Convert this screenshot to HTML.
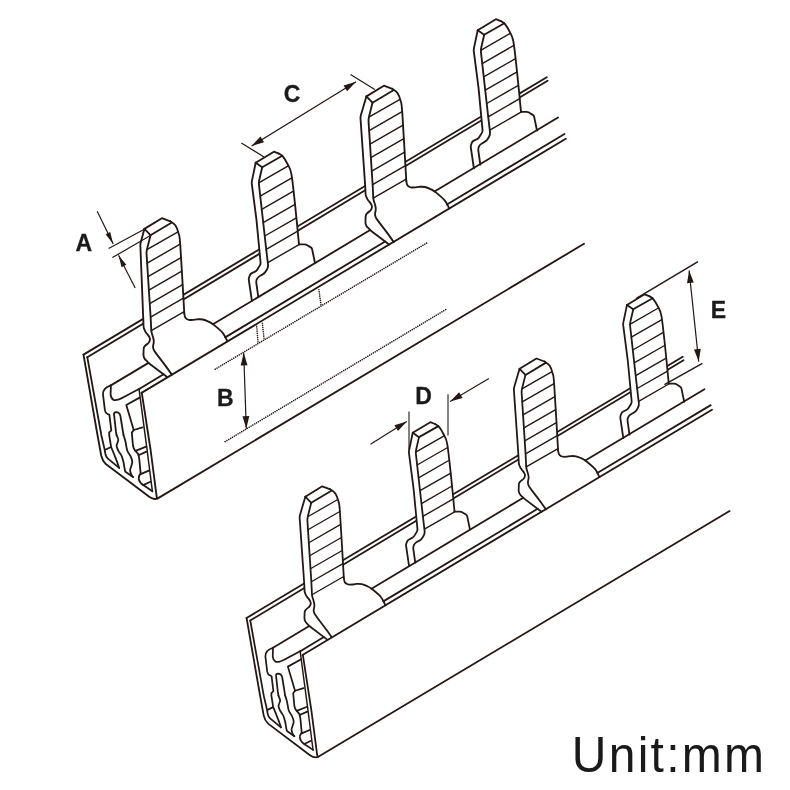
<!DOCTYPE html>
<html><head><meta charset="utf-8"><title>Busbar</title>
<style>
html,body{margin:0;padding:0;background:#fff;}
body{width:790px;height:790px;overflow:hidden;font-family:"Liberation Sans",sans-serif;}
svg{display:block;}
</style></head><body>
<svg width="790" height="790" viewBox="0 0 790 790">
<rect width="790" height="790" fill="#fff"/>
<g fill="none" stroke="#231815" stroke-width="1.85" stroke-linecap="round" stroke-linejoin="round">
<line x1="83.50" y1="354.60" x2="546.80" y2="77.20"/>
<line x1="87.30" y1="357.20" x2="547.60" y2="80.70"/>
<polygon points="167.1,377.0 148.6,363.0 147.0,361.3 144.3,358.6 143.4,355.4 143.6,350.4 143.7,347.3 145.8,345.0 149.0,342.8 150.3,339.0 148.7,335.8 145.5,332.0 143.6,327.6 143.3,320.0 140.3,244.1 144.4,228.9 161.9,218.2 170.3,221.3 175.5,225.5 178.6,233.4 180.3,245.6 184.3,313.5 185.2,317.3 187.2,319.2 189.6,320.0 193.2,319.9 197.3,319.3 202.9,319.5 208.5,321.6 213.5,324.6 222.7,332.9 227.2,341.0" fill="#fff" stroke="none"/>
<line x1="146.88" y1="249.70" x2="177.98" y2="231.82" stroke-width="1.4"/>
<line x1="147.14" y1="263.17" x2="180.11" y2="244.22" stroke-width="1.4"/>
<line x1="148.01" y1="276.64" x2="181.01" y2="257.67" stroke-width="1.4"/>
<line x1="148.88" y1="290.11" x2="181.81" y2="271.18" stroke-width="1.4"/>
<line x1="149.74" y1="303.58" x2="182.60" y2="284.69" stroke-width="1.4"/>
<line x1="150.61" y1="317.05" x2="183.40" y2="298.20" stroke-width="1.4"/>
<line x1="151.24" y1="330.52" x2="184.19" y2="311.57" stroke-width="1.4"/>
<path d="M167.10,377.00 L149.53,363.70 Q148.60,363.00 147.80,362.15 L147.80,362.15 Q147.00,361.30 146.17,360.47 L145.43,359.73 Q144.30,358.60 143.87,357.06 L143.83,356.94 Q143.40,355.40 143.46,353.80 L143.54,351.95 Q143.60,350.40 143.65,348.85 L143.65,348.85 Q143.70,347.30 144.75,346.15 L144.75,346.15 Q145.80,345.00 147.08,344.12 L147.68,343.71 Q149.00,342.80 149.52,341.29 L149.78,340.51 Q150.30,339.00 149.58,337.57 L149.42,337.23 Q148.70,335.80 147.67,334.58 L146.53,333.22 Q145.50,332.00 144.87,330.53 L144.23,329.07 Q143.60,327.60 143.54,326.00 L143.36,321.60 Q143.30,320.00 143.24,318.40 L140.36,245.70 Q140.30,244.10 140.72,242.56 L144.40,228.90"/>
<polyline points="144.4,228.9 161.9,218.2 170.3,221.3"/>
<path d="M170.30,221.30 C171.17,222.00 174.12,223.48 175.50,225.50 C176.88,227.52 177.80,230.05 178.60,233.40 C179.40,236.75 179.35,232.25 180.30,245.60 C181.25,258.95 183.63,302.18 184.30,313.50"/>
<path d="M184.30,313.50 C184.45,314.13 184.72,316.35 185.20,317.30 C185.68,318.25 186.47,318.75 187.20,319.20 C187.93,319.65 188.60,319.88 189.60,320.00 C190.60,320.12 191.92,320.02 193.20,319.90 C194.48,319.78 195.68,319.37 197.30,319.30 C198.92,319.23 201.03,319.12 202.90,319.50 C204.77,319.88 206.73,320.75 208.50,321.60 C210.27,322.45 211.13,322.72 213.50,324.60 C215.87,326.48 220.42,330.17 222.70,332.90 C224.98,335.63 226.45,339.65 227.20,341.00"/>
<path d="M150.50,235.20 L147.01,249.17 Q146.40,251.60 146.56,254.09 L150.64,317.51 Q150.80,320.00 150.90,322.50 L151.20,329.50 Q151.30,332.00 152.13,334.36 L152.35,334.98 Q153.10,337.10 153.55,339.30 L153.55,339.30 Q154.00,341.50 153.53,343.70 L153.23,345.06 Q152.90,346.60 153.20,348.15 L153.20,348.15 Q153.50,349.70 154.40,351.00 L155.18,352.14 Q156.60,354.20 158.13,356.18 L163.87,363.62 Q165.40,365.60 166.85,367.64 L171.80,374.60"/>
<line x1="144.40" y1="228.90" x2="150.50" y2="235.20"/>
<line x1="150.50" y1="235.20" x2="171.00" y2="223.00"/>
<polygon points="251.9,300.8 248.6,278.5 250.4,273.9 256.5,270.9 260.7,264.0 256.5,220.0 251.6,182.4 255.7,162.7 273.9,151.7 278.8,153.6 283.0,156.6 287.6,164.2 291.4,174.1 295.2,206.0 299.0,244.3 305.8,244.3 311.9,248.1 315.0,263.0" fill="#fff" stroke="none"/>
<line x1="258.74" y1="182.80" x2="288.23" y2="165.85" stroke-width="1.4"/>
<line x1="260.24" y1="196.10" x2="291.86" y2="177.92" stroke-width="1.4"/>
<line x1="261.74" y1="209.40" x2="293.43" y2="191.17" stroke-width="1.4"/>
<line x1="263.23" y1="222.70" x2="295.01" y2="204.43" stroke-width="1.4"/>
<line x1="264.73" y1="236.00" x2="296.37" y2="217.80" stroke-width="1.4"/>
<line x1="266.22" y1="249.30" x2="297.70" y2="231.20" stroke-width="1.4"/>
<line x1="267.78" y1="262.60" x2="299.03" y2="244.63" stroke-width="1.4"/>
<path d="M251.90,300.80 L248.83,280.08 Q248.60,278.50 249.18,277.01 L249.82,275.39 Q250.40,273.90 251.84,273.19 L255.06,271.61 Q256.50,270.90 257.33,269.53 L259.87,265.37 Q260.70,264.00 260.55,262.41 L256.65,221.59 Q256.50,220.00 256.29,218.41 L251.81,183.99 Q251.60,182.40 251.93,180.83 L255.70,162.70"/>
<polyline points="255.7,162.7 273.9,151.7 278.8,153.6"/>
<path d="M278.80,153.60 C279.50,154.10 281.53,154.83 283.00,156.60 C284.47,158.37 286.20,161.28 287.60,164.20 C289.00,167.12 290.13,167.13 291.40,174.10 C292.67,181.07 293.93,194.30 295.20,206.00 C296.47,217.70 298.37,237.92 299.00,244.30"/>
<path d="M299.00,244.30 L304.50,244.30 Q305.80,244.30 306.90,244.99 L310.80,247.41 Q311.90,248.10 312.16,249.37 L315.00,263.00"/>
<path d="M262.20,167.20 L259.26,179.96 Q258.70,182.40 258.98,184.88 L266.02,247.52 Q266.30,250.00 266.59,252.48 L268.01,264.52 Q268.30,267.00 267.07,269.18 L266.03,271.02 Q264.80,273.20 262.62,274.42 L259.87,275.95 Q258.00,277.00 257.00,278.90 L257.00,278.90 Q256.00,280.80 256.30,282.93 L258.30,297.20"/>
<line x1="255.70" y1="162.70" x2="262.20" y2="167.20"/>
<line x1="262.20" y1="167.20" x2="282.30" y2="155.80"/>
<polygon points="389.1,244.5 370.6,230.5 369.0,228.8 366.3,226.1 365.4,222.9 365.6,217.9 365.7,214.8 367.8,212.5 371.0,210.3 372.3,206.5 370.7,203.3 367.5,199.5 365.6,195.1 365.3,187.5 360.4,116.9 366.4,96.4 383.9,85.7 392.3,88.8 397.5,93.0 400.6,100.9 402.3,113.1 406.3,181.0 407.2,184.8 409.2,186.7 411.6,187.5 415.2,187.4 419.3,186.8 424.9,187.0 430.5,189.1 435.5,192.1 444.7,200.4 449.2,208.5" fill="#fff" stroke="none"/>
<line x1="368.88" y1="117.20" x2="399.98" y2="99.32" stroke-width="1.4"/>
<line x1="369.14" y1="130.67" x2="402.11" y2="111.72" stroke-width="1.4"/>
<line x1="370.01" y1="144.14" x2="403.01" y2="125.17" stroke-width="1.4"/>
<line x1="370.88" y1="157.61" x2="403.81" y2="138.68" stroke-width="1.4"/>
<line x1="371.74" y1="171.08" x2="404.60" y2="152.19" stroke-width="1.4"/>
<line x1="372.61" y1="184.55" x2="405.40" y2="165.70" stroke-width="1.4"/>
<line x1="373.24" y1="198.02" x2="406.19" y2="179.07" stroke-width="1.4"/>
<path d="M389.10,244.50 L371.53,231.20 Q370.60,230.50 369.80,229.65 L369.80,229.65 Q369.00,228.80 368.17,227.97 L367.43,227.23 Q366.30,226.10 365.87,224.56 L365.83,224.44 Q365.40,222.90 365.46,221.30 L365.54,219.45 Q365.60,217.90 365.65,216.35 L365.65,216.35 Q365.70,214.80 366.75,213.65 L366.75,213.65 Q367.80,212.50 369.08,211.62 L369.68,211.21 Q371.00,210.30 371.52,208.79 L371.78,208.01 Q372.30,206.50 371.58,205.07 L371.42,204.73 Q370.70,203.30 369.67,202.08 L368.53,200.72 Q367.50,199.50 366.87,198.03 L366.23,196.57 Q365.60,195.10 365.54,193.50 L365.36,189.10 Q365.30,187.50 365.19,185.90 L360.51,118.50 Q360.40,116.90 360.85,115.36 L366.40,96.40"/>
<polyline points="366.4,96.4 383.9,85.7 392.3,88.8"/>
<path d="M392.30,88.80 C393.17,89.50 396.12,90.98 397.50,93.00 C398.88,95.02 399.80,97.55 400.60,100.90 C401.40,104.25 401.35,99.75 402.30,113.10 C403.25,126.45 405.63,169.68 406.30,181.00"/>
<path d="M406.30,181.00 C406.45,181.63 406.72,183.85 407.20,184.80 C407.68,185.75 408.47,186.25 409.20,186.70 C409.93,187.15 410.60,187.38 411.60,187.50 C412.60,187.62 413.92,187.52 415.20,187.40 C416.48,187.28 417.68,186.87 419.30,186.80 C420.92,186.73 423.03,186.62 424.90,187.00 C426.77,187.38 428.73,188.25 430.50,189.10 C432.27,189.95 433.13,190.22 435.50,192.10 C437.87,193.98 442.42,197.67 444.70,200.40 C446.98,203.13 448.45,207.15 449.20,208.50"/>
<path d="M372.50,102.70 L369.01,116.67 Q368.40,119.10 368.56,121.59 L372.64,185.01 Q372.80,187.50 372.90,190.00 L373.20,197.00 Q373.30,199.50 374.13,201.86 L374.35,202.48 Q375.10,204.60 375.55,206.80 L375.55,206.80 Q376.00,209.00 375.53,211.20 L375.23,212.56 Q374.90,214.10 375.20,215.65 L375.20,215.65 Q375.50,217.20 376.40,218.50 L377.18,219.64 Q378.60,221.70 380.13,223.68 L385.87,231.12 Q387.40,233.10 388.85,235.14 L393.80,242.10"/>
<line x1="366.40" y1="96.40" x2="372.50" y2="102.70"/>
<line x1="372.50" y1="102.70" x2="393.00" y2="90.50"/>
<polygon points="473.9,168.3 470.6,146.0 472.4,141.4 478.5,138.4 482.7,131.5 478.5,87.5 473.6,49.9 477.7,30.2 495.9,19.2 500.8,21.1 505.0,24.1 509.6,31.7 513.4,41.6 517.2,73.5 521.0,111.8 527.8,111.8 533.9,115.6 537.0,130.5" fill="#fff" stroke="none"/>
<line x1="480.74" y1="50.30" x2="510.23" y2="33.35" stroke-width="1.4"/>
<line x1="482.24" y1="63.60" x2="513.86" y2="45.42" stroke-width="1.4"/>
<line x1="483.74" y1="76.90" x2="515.43" y2="58.67" stroke-width="1.4"/>
<line x1="485.23" y1="90.20" x2="517.01" y2="71.93" stroke-width="1.4"/>
<line x1="486.73" y1="103.50" x2="518.37" y2="85.30" stroke-width="1.4"/>
<line x1="488.22" y1="116.80" x2="519.70" y2="98.70" stroke-width="1.4"/>
<line x1="489.78" y1="130.10" x2="521.03" y2="112.13" stroke-width="1.4"/>
<path d="M473.90,168.30 L470.83,147.58 Q470.60,146.00 471.18,144.51 L471.82,142.89 Q472.40,141.40 473.84,140.69 L477.06,139.11 Q478.50,138.40 479.33,137.03 L481.87,132.87 Q482.70,131.50 482.55,129.91 L478.65,89.09 Q478.50,87.50 478.29,85.91 L473.81,51.49 Q473.60,49.90 473.93,48.33 L477.70,30.20"/>
<polyline points="477.7,30.2 495.9,19.2 500.8,21.1"/>
<path d="M500.80,21.10 C501.50,21.60 503.53,22.33 505.00,24.10 C506.47,25.87 508.20,28.78 509.60,31.70 C511.00,34.62 512.13,34.63 513.40,41.60 C514.67,48.57 515.93,61.80 517.20,73.50 C518.47,85.20 520.37,105.42 521.00,111.80"/>
<path d="M521.00,111.80 L526.50,111.80 Q527.80,111.80 528.90,112.49 L532.80,114.91 Q533.90,115.60 534.16,116.87 L537.00,130.50"/>
<path d="M484.20,34.70 L481.26,47.46 Q480.70,49.90 480.98,52.38 L488.02,115.02 Q488.30,117.50 488.59,119.98 L490.01,132.02 Q490.30,134.50 489.07,136.68 L488.03,138.52 Q486.80,140.70 484.62,141.92 L481.87,143.45 Q480.00,144.50 479.00,146.40 L479.00,146.40 Q478.00,148.30 478.30,150.43 L480.30,164.70"/>
<line x1="477.70" y1="30.20" x2="484.20" y2="34.70"/>
<line x1="484.20" y1="34.70" x2="504.30" y2="23.30"/>
<line x1="110.90" y1="385.40" x2="148.49" y2="362.88"/>
<line x1="212.94" y1="324.26" x2="370.17" y2="230.05"/>
<line x1="434.50" y1="191.50" x2="558.00" y2="117.50"/>
<line x1="139.60" y1="388.70" x2="163.57" y2="374.33"/>
<line x1="225.20" y1="337.39" x2="385.15" y2="241.51"/>
<line x1="446.96" y1="204.46" x2="564.50" y2="134.00"/>
<line x1="141.50" y1="392.90" x2="565.80" y2="138.70"/>
<line x1="157.80" y1="498.40" x2="584.00" y2="243.80"/>
<path d="M83.5,354.6 L96.6,430 L101.2,455.5 Q102.3,460.6 105.8,464.1 L149.2,496.8 Q153.8,500.2 157.8,498.4"/>
<path stroke-width="1.8" d="M87.3,357.2 L101.3,435 L104.5,448.9 L105.4,454 Q106.0,457.0 107.9,458.6 L119.1,467.9"/>
<path d="M141.8,392.8 L150.6,450 L156.8,497.7"/>
<path stroke-width="1.5" d="M139.0,388.9 L147.1,450 L152.4,491.4"/>
<path stroke-width="1.8" d="M110.9,385.4 Q106.5,386.8 104.9,388.9 Q102.6,391.5 103.0,394.5 L104.9,410.2 Q105.4,413.2 107.5,414.0 L109.4,414.9 L111.3,430.4 L109.2,432.4 L109.2,435.0 L111.1,447.0 L114.0,454.0 L117.2,462.2 L119.1,467.9"/>
<path stroke-width="1.8" d="M110.9,385.4 L110.6,394.7 Q111.0,398.5 113.5,399.9 Q117.0,401.0 123.9,397.0 L139.4,388.8"/>
<path stroke-width="1.8" d="M139.6,397.6 L126.3,405.0 L133.7,430.0 L142.6,427.3"/>
<path stroke-width="1.8" d="M133.7,430.0 L131.8,432.6 L133.0,445.8 Q133.6,448.8 135.0,450.4 L138.3,454.2 L139.3,459.1 L140.6,473.4 Q138.2,476.5 138.7,478.6 Q139.3,482.6 143.2,485.1 L152.4,491.3"/>
<path stroke-width="1.8" d="M135.5,450.8 L145.6,446.8"/>
<path stroke-width="1.8" d="M138.5,455.2 L146.4,451.6"/>
<path stroke-width="1.8" d="M140.6,474.2 L148.9,470.6"/>
<path stroke-width="1.8" d="M143.2,485.1 L150.4,481.8"/>
<path stroke-width="1.8" d="M116.5,435 L115.9,431.2 L114.0,414.2 Q113.9,412.3 116.0,412.2 Q119.6,412.2 120.4,416.0 L123.5,435"/>
<path stroke-width="1.8" d="M116.50,435.00 C116.80,435.85 118.28,438.30 118.30,440.10 C118.32,441.90 116.58,444.02 116.60,445.80 C116.62,447.58 117.57,449.12 118.40,450.80 C119.23,452.48 120.75,454.00 121.60,455.90 C122.45,457.80 122.98,459.98 123.50,462.20 C124.02,464.42 124.38,467.62 124.70,469.20 C125.02,470.78 125.28,471.28 125.40,471.70 L133.0,477.1"/>
<path stroke-width="1.8" d="M123.50,435.00 C123.82,436.05 124.77,438.67 125.40,441.30 C126.03,443.93 126.47,448.37 127.30,450.80 C128.13,453.23 129.57,454.10 130.40,455.90 C131.23,457.70 132.18,459.82 132.30,461.60 C132.42,463.38 131.47,465.13 131.10,466.60 C130.73,468.07 130.05,469.02 130.10,470.40 C130.15,471.78 130.92,473.78 131.40,474.90 C131.88,476.02 132.73,476.73 133.00,477.10"/>
<path stroke-width="1.8" d="M105.2,449.8 L111.1,447.0"/>
</g>
<g fill="none" stroke="#231815" stroke-width="1.85" stroke-linecap="round" stroke-linejoin="round" transform="translate(166,275.8) scale(0.965)">
<line x1="83.50" y1="354.60" x2="535.50" y2="83.97"/>
<line x1="87.30" y1="357.20" x2="536.30" y2="87.49"/>
<polygon points="167.1,377.0 148.6,363.0 147.0,361.3 144.3,358.6 143.4,355.4 143.6,350.4 143.7,347.3 145.8,345.0 149.0,342.8 150.3,339.0 148.7,335.8 145.5,332.0 143.6,327.6 143.3,320.0 138.4,249.4 144.4,228.9 161.9,218.2 170.3,221.3 175.5,225.5 178.6,233.4 180.3,245.6 184.3,313.5 185.2,317.3 187.2,319.2 189.6,320.0 193.2,319.9 197.3,319.3 202.9,319.5 208.5,321.6 213.5,324.6 222.7,332.9 227.2,341.0" fill="#fff" stroke="none"/>
<line x1="146.88" y1="249.70" x2="177.98" y2="231.82" stroke-width="1.4"/>
<line x1="147.14" y1="263.17" x2="180.11" y2="244.22" stroke-width="1.4"/>
<line x1="148.01" y1="276.64" x2="181.01" y2="257.67" stroke-width="1.4"/>
<line x1="148.88" y1="290.11" x2="181.81" y2="271.18" stroke-width="1.4"/>
<line x1="149.74" y1="303.58" x2="182.60" y2="284.69" stroke-width="1.4"/>
<line x1="150.61" y1="317.05" x2="183.40" y2="298.20" stroke-width="1.4"/>
<line x1="151.24" y1="330.52" x2="184.19" y2="311.57" stroke-width="1.4"/>
<path d="M167.10,377.00 L149.53,363.70 Q148.60,363.00 147.80,362.15 L147.80,362.15 Q147.00,361.30 146.17,360.47 L145.43,359.73 Q144.30,358.60 143.87,357.06 L143.83,356.94 Q143.40,355.40 143.46,353.80 L143.54,351.95 Q143.60,350.40 143.65,348.85 L143.65,348.85 Q143.70,347.30 144.75,346.15 L144.75,346.15 Q145.80,345.00 147.08,344.12 L147.68,343.71 Q149.00,342.80 149.52,341.29 L149.78,340.51 Q150.30,339.00 149.58,337.57 L149.42,337.23 Q148.70,335.80 147.67,334.58 L146.53,333.22 Q145.50,332.00 144.87,330.53 L144.23,329.07 Q143.60,327.60 143.54,326.00 L143.36,321.60 Q143.30,320.00 143.19,318.40 L138.51,251.00 Q138.40,249.40 138.85,247.86 L144.40,228.90"/>
<polyline points="144.4,228.9 161.9,218.2 170.3,221.3"/>
<path d="M170.30,221.30 C171.17,222.00 174.12,223.48 175.50,225.50 C176.88,227.52 177.80,230.05 178.60,233.40 C179.40,236.75 179.35,232.25 180.30,245.60 C181.25,258.95 183.63,302.18 184.30,313.50"/>
<path d="M184.30,313.50 C184.45,314.13 184.72,316.35 185.20,317.30 C185.68,318.25 186.47,318.75 187.20,319.20 C187.93,319.65 188.60,319.88 189.60,320.00 C190.60,320.12 191.92,320.02 193.20,319.90 C194.48,319.78 195.68,319.37 197.30,319.30 C198.92,319.23 201.03,319.12 202.90,319.50 C204.77,319.88 206.73,320.75 208.50,321.60 C210.27,322.45 211.13,322.72 213.50,324.60 C215.87,326.48 220.42,330.17 222.70,332.90 C224.98,335.63 226.45,339.65 227.20,341.00"/>
<path d="M150.50,235.20 L147.01,249.17 Q146.40,251.60 146.56,254.09 L150.64,317.51 Q150.80,320.00 150.90,322.50 L151.20,329.50 Q151.30,332.00 152.13,334.36 L152.35,334.98 Q153.10,337.10 153.55,339.30 L153.55,339.30 Q154.00,341.50 153.53,343.70 L153.23,345.06 Q152.90,346.60 153.20,348.15 L153.20,348.15 Q153.50,349.70 154.40,351.00 L155.18,352.14 Q156.60,354.20 158.13,356.18 L163.87,363.62 Q165.40,365.60 166.85,367.64 L171.80,374.60"/>
<line x1="144.40" y1="228.90" x2="150.50" y2="235.20"/>
<line x1="150.50" y1="235.20" x2="171.00" y2="223.00"/>
<polygon points="251.9,300.8 248.6,278.5 250.4,273.9 256.5,270.9 260.7,264.0 256.5,220.0 251.6,182.4 255.7,162.7 273.9,151.7 278.8,153.6 283.0,156.6 287.6,164.2 291.4,174.1 295.2,206.0 299.0,244.3 305.8,244.3 311.9,248.1 315.0,263.0" fill="#fff" stroke="none"/>
<line x1="258.74" y1="182.80" x2="288.23" y2="165.85" stroke-width="1.4"/>
<line x1="260.24" y1="196.10" x2="291.86" y2="177.92" stroke-width="1.4"/>
<line x1="261.74" y1="209.40" x2="293.43" y2="191.17" stroke-width="1.4"/>
<line x1="263.23" y1="222.70" x2="295.01" y2="204.43" stroke-width="1.4"/>
<line x1="264.73" y1="236.00" x2="296.37" y2="217.80" stroke-width="1.4"/>
<line x1="266.22" y1="249.30" x2="297.70" y2="231.20" stroke-width="1.4"/>
<line x1="267.78" y1="262.60" x2="299.03" y2="244.63" stroke-width="1.4"/>
<path d="M251.90,300.80 L248.83,280.08 Q248.60,278.50 249.18,277.01 L249.82,275.39 Q250.40,273.90 251.84,273.19 L255.06,271.61 Q256.50,270.90 257.33,269.53 L259.87,265.37 Q260.70,264.00 260.55,262.41 L256.65,221.59 Q256.50,220.00 256.29,218.41 L251.81,183.99 Q251.60,182.40 251.93,180.83 L255.70,162.70"/>
<polyline points="255.7,162.7 273.9,151.7 278.8,153.6"/>
<path d="M278.80,153.60 C279.50,154.10 281.53,154.83 283.00,156.60 C284.47,158.37 286.20,161.28 287.60,164.20 C289.00,167.12 290.13,167.13 291.40,174.10 C292.67,181.07 293.93,194.30 295.20,206.00 C296.47,217.70 298.37,237.92 299.00,244.30"/>
<path d="M299.00,244.30 L304.50,244.30 Q305.80,244.30 306.90,244.99 L310.80,247.41 Q311.90,248.10 312.16,249.37 L315.00,263.00"/>
<path d="M262.20,167.20 L259.26,179.96 Q258.70,182.40 258.98,184.88 L266.02,247.52 Q266.30,250.00 266.59,252.48 L268.01,264.52 Q268.30,267.00 267.07,269.18 L266.03,271.02 Q264.80,273.20 262.62,274.42 L259.87,275.95 Q258.00,277.00 257.00,278.90 L257.00,278.90 Q256.00,280.80 256.30,282.93 L258.30,297.20"/>
<line x1="255.70" y1="162.70" x2="262.20" y2="167.20"/>
<line x1="262.20" y1="167.20" x2="282.30" y2="155.80"/>
<polygon points="389.1,244.5 370.6,230.5 369.0,228.8 366.3,226.1 365.4,222.9 365.6,217.9 365.7,214.8 367.8,212.5 371.0,210.3 372.3,206.5 370.7,203.3 367.5,199.5 365.6,195.1 365.3,187.5 360.4,116.9 366.4,96.4 383.9,85.7 392.3,88.8 397.5,93.0 400.6,100.9 402.3,113.1 406.3,181.0 407.2,184.8 409.2,186.7 411.6,187.5 415.2,187.4 419.3,186.8 424.9,187.0 430.5,189.1 435.5,192.1 444.7,200.4 449.2,208.5" fill="#fff" stroke="none"/>
<line x1="368.88" y1="117.20" x2="399.98" y2="99.32" stroke-width="1.4"/>
<line x1="369.14" y1="130.67" x2="402.11" y2="111.72" stroke-width="1.4"/>
<line x1="370.01" y1="144.14" x2="403.01" y2="125.17" stroke-width="1.4"/>
<line x1="370.88" y1="157.61" x2="403.81" y2="138.68" stroke-width="1.4"/>
<line x1="371.74" y1="171.08" x2="404.60" y2="152.19" stroke-width="1.4"/>
<line x1="372.61" y1="184.55" x2="405.40" y2="165.70" stroke-width="1.4"/>
<line x1="373.24" y1="198.02" x2="406.19" y2="179.07" stroke-width="1.4"/>
<path d="M389.10,244.50 L371.53,231.20 Q370.60,230.50 369.80,229.65 L369.80,229.65 Q369.00,228.80 368.17,227.97 L367.43,227.23 Q366.30,226.10 365.87,224.56 L365.83,224.44 Q365.40,222.90 365.46,221.30 L365.54,219.45 Q365.60,217.90 365.65,216.35 L365.65,216.35 Q365.70,214.80 366.75,213.65 L366.75,213.65 Q367.80,212.50 369.08,211.62 L369.68,211.21 Q371.00,210.30 371.52,208.79 L371.78,208.01 Q372.30,206.50 371.58,205.07 L371.42,204.73 Q370.70,203.30 369.67,202.08 L368.53,200.72 Q367.50,199.50 366.87,198.03 L366.23,196.57 Q365.60,195.10 365.54,193.50 L365.36,189.10 Q365.30,187.50 365.19,185.90 L360.51,118.50 Q360.40,116.90 360.85,115.36 L366.40,96.40"/>
<polyline points="366.4,96.4 383.9,85.7 392.3,88.8"/>
<path d="M392.30,88.80 C393.17,89.50 396.12,90.98 397.50,93.00 C398.88,95.02 399.80,97.55 400.60,100.90 C401.40,104.25 401.35,99.75 402.30,113.10 C403.25,126.45 405.63,169.68 406.30,181.00"/>
<path d="M406.30,181.00 C406.45,181.63 406.72,183.85 407.20,184.80 C407.68,185.75 408.47,186.25 409.20,186.70 C409.93,187.15 410.60,187.38 411.60,187.50 C412.60,187.62 413.92,187.52 415.20,187.40 C416.48,187.28 417.68,186.87 419.30,186.80 C420.92,186.73 423.03,186.62 424.90,187.00 C426.77,187.38 428.73,188.25 430.50,189.10 C432.27,189.95 433.13,190.22 435.50,192.10 C437.87,193.98 442.42,197.67 444.70,200.40 C446.98,203.13 448.45,207.15 449.20,208.50"/>
<path d="M372.50,102.70 L369.01,116.67 Q368.40,119.10 368.56,121.59 L372.64,185.01 Q372.80,187.50 372.90,190.00 L373.20,197.00 Q373.30,199.50 374.13,201.86 L374.35,202.48 Q375.10,204.60 375.55,206.80 L375.55,206.80 Q376.00,209.00 375.53,211.20 L375.23,212.56 Q374.90,214.10 375.20,215.65 L375.20,215.65 Q375.50,217.20 376.40,218.50 L377.18,219.64 Q378.60,221.70 380.13,223.68 L385.87,231.12 Q387.40,233.10 388.85,235.14 L393.80,242.10"/>
<line x1="366.40" y1="96.40" x2="372.50" y2="102.70"/>
<line x1="372.50" y1="102.70" x2="393.00" y2="90.50"/>
<polygon points="473.9,168.3 470.6,146.0 472.4,141.4 478.5,138.4 482.7,131.5 478.5,87.5 473.6,49.9 477.7,30.2 495.9,19.2 500.8,21.1 505.0,24.1 509.6,31.7 513.4,41.6 517.2,73.5 521.0,111.8 527.8,111.8 533.9,115.6 537.0,130.5" fill="#fff" stroke="none"/>
<line x1="480.74" y1="50.30" x2="510.23" y2="33.35" stroke-width="1.4"/>
<line x1="482.24" y1="63.60" x2="513.86" y2="45.42" stroke-width="1.4"/>
<line x1="483.74" y1="76.90" x2="515.43" y2="58.67" stroke-width="1.4"/>
<line x1="485.23" y1="90.20" x2="517.01" y2="71.93" stroke-width="1.4"/>
<line x1="486.73" y1="103.50" x2="518.37" y2="85.30" stroke-width="1.4"/>
<line x1="488.22" y1="116.80" x2="519.70" y2="98.70" stroke-width="1.4"/>
<line x1="489.78" y1="130.10" x2="521.03" y2="112.13" stroke-width="1.4"/>
<path d="M473.90,168.30 L470.83,147.58 Q470.60,146.00 471.18,144.51 L471.82,142.89 Q472.40,141.40 473.84,140.69 L477.06,139.11 Q478.50,138.40 479.33,137.03 L481.87,132.87 Q482.70,131.50 482.55,129.91 L478.65,89.09 Q478.50,87.50 478.29,85.91 L473.81,51.49 Q473.60,49.90 473.93,48.33 L477.70,30.20"/>
<polyline points="477.7,30.2 495.9,19.2 500.8,21.1"/>
<path d="M500.80,21.10 C501.50,21.60 503.53,22.33 505.00,24.10 C506.47,25.87 508.20,28.78 509.60,31.70 C511.00,34.62 512.13,34.63 513.40,41.60 C514.67,48.57 515.93,61.80 517.20,73.50 C518.47,85.20 520.37,105.42 521.00,111.80"/>
<path d="M521.00,111.80 L526.50,111.80 Q527.80,111.80 528.90,112.49 L532.80,114.91 Q533.90,115.60 534.16,116.87 L537.00,130.50"/>
<path d="M484.20,34.70 L481.26,47.46 Q480.70,49.90 480.98,52.38 L488.02,115.02 Q488.30,117.50 488.59,119.98 L490.01,132.02 Q490.30,134.50 489.07,136.68 L488.03,138.52 Q486.80,140.70 484.62,141.92 L481.87,143.45 Q480.00,144.50 479.00,146.40 L479.00,146.40 Q478.00,148.30 478.30,150.43 L480.30,164.70"/>
<line x1="477.70" y1="30.20" x2="484.20" y2="34.70"/>
<line x1="484.20" y1="34.70" x2="504.30" y2="23.30"/>
<line x1="110.90" y1="385.40" x2="148.49" y2="362.88"/>
<line x1="212.94" y1="324.26" x2="370.17" y2="230.05"/>
<line x1="434.50" y1="191.50" x2="558.00" y2="117.50"/>
<line x1="139.60" y1="388.70" x2="163.57" y2="374.33"/>
<line x1="225.20" y1="337.39" x2="385.15" y2="241.51"/>
<line x1="446.96" y1="204.46" x2="564.50" y2="134.00"/>
<line x1="141.50" y1="392.90" x2="565.80" y2="138.70"/>
<line x1="157.80" y1="498.40" x2="584.00" y2="243.80"/>
<path d="M83.5,354.6 L96.6,430 L101.2,455.5 Q102.3,460.6 105.8,464.1 L149.2,496.8 Q153.8,500.2 157.8,498.4"/>
<path stroke-width="1.8" d="M87.3,357.2 L101.3,435 L104.5,448.9 L105.4,454 Q106.0,457.0 107.9,458.6 L119.1,467.9"/>
<path d="M141.8,392.8 L150.6,450 L156.8,497.7"/>
<path stroke-width="1.5" d="M139.0,388.9 L147.1,450 L152.4,491.4"/>
<path stroke-width="1.8" d="M110.9,385.4 Q106.5,386.8 104.9,388.9 Q102.6,391.5 103.0,394.5 L104.9,410.2 Q105.4,413.2 107.5,414.0 L109.4,414.9 L111.3,430.4 L109.2,432.4 L109.2,435.0 L111.1,447.0 L114.0,454.0 L117.2,462.2 L119.1,467.9"/>
<path stroke-width="1.8" d="M110.9,385.4 L110.6,394.7 Q111.0,398.5 113.5,399.9 Q117.0,401.0 123.9,397.0 L139.4,388.8"/>
<path stroke-width="1.8" d="M139.6,397.6 L126.3,405.0 L133.7,430.0 L142.6,427.3"/>
<path stroke-width="1.8" d="M133.7,430.0 L131.8,432.6 L133.0,445.8 Q133.6,448.8 135.0,450.4 L138.3,454.2 L139.3,459.1 L140.6,473.4 Q138.2,476.5 138.7,478.6 Q139.3,482.6 143.2,485.1 L152.4,491.3"/>
<path stroke-width="1.8" d="M135.5,450.8 L145.6,446.8"/>
<path stroke-width="1.8" d="M138.5,455.2 L146.4,451.6"/>
<path stroke-width="1.8" d="M140.6,474.2 L148.9,470.6"/>
<path stroke-width="1.8" d="M143.2,485.1 L150.4,481.8"/>
<path stroke-width="1.8" d="M116.5,435 L115.9,431.2 L114.0,414.2 Q113.9,412.3 116.0,412.2 Q119.6,412.2 120.4,416.0 L123.5,435"/>
<path stroke-width="1.8" d="M116.50,435.00 C116.80,435.85 118.28,438.30 118.30,440.10 C118.32,441.90 116.58,444.02 116.60,445.80 C116.62,447.58 117.57,449.12 118.40,450.80 C119.23,452.48 120.75,454.00 121.60,455.90 C122.45,457.80 122.98,459.98 123.50,462.20 C124.02,464.42 124.38,467.62 124.70,469.20 C125.02,470.78 125.28,471.28 125.40,471.70 L133.0,477.1"/>
<path stroke-width="1.8" d="M123.50,435.00 C123.82,436.05 124.77,438.67 125.40,441.30 C126.03,443.93 126.47,448.37 127.30,450.80 C128.13,453.23 129.57,454.10 130.40,455.90 C131.23,457.70 132.18,459.82 132.30,461.60 C132.42,463.38 131.47,465.13 131.10,466.60 C130.73,468.07 130.05,469.02 130.10,470.40 C130.15,471.78 130.92,473.78 131.40,474.90 C131.88,476.02 132.73,476.73 133.00,477.10"/>
<path stroke-width="1.8" d="M105.2,449.8 L111.1,447.0"/>
</g>
<g fill="none" stroke="#231815" stroke-linecap="butt">
<line x1="108.60" y1="248.50" x2="144.30" y2="229.20" stroke-width="1.2"/>
<line x1="112.40" y1="257.60" x2="150.40" y2="235.60" stroke-width="1.2"/>
<line x1="97.20" y1="211.30" x2="113.20" y2="243.90" stroke-width="1.2"/>
<polygon points="113.2,243.9 105.6,234.3 110.2,232.0" fill="#231815" stroke="none"/>
<line x1="135.20" y1="288.00" x2="118.50" y2="255.30" stroke-width="1.2"/>
<polygon points="118.5,255.3 126.3,264.8 121.6,267.2" fill="#231815" stroke="none"/>
<line x1="241.30" y1="142.90" x2="264.00" y2="157.00" stroke-width="1.2"/>
<line x1="350.50" y1="74.40" x2="374.80" y2="89.60" stroke-width="1.2"/>
<line x1="251.60" y1="145.90" x2="356.00" y2="81.80" stroke-width="1.2"/>
<polygon points="251.6,145.9 260.5,136.5 264.0,142.3" fill="#231815" stroke="none"/>
<polygon points="356.0,81.8 347.1,91.2 343.6,85.4" fill="#231815" stroke="none"/>
<line x1="243.70" y1="352.80" x2="246.30" y2="428.70" stroke-width="1.2"/>
<polygon points="243.7,352.8 247.5,365.2 240.7,365.4" fill="#231815" stroke="none"/>
<polygon points="246.3,428.7 242.5,416.3 249.3,416.1" fill="#231815" stroke="none"/>
<line x1="215.2" y1="369.2" x2="427.6" y2="242.5" stroke-width="1.6" stroke-linecap="round" stroke-dasharray="0.01 2.15" stroke="#231815"/>
<line x1="225.1" y1="441.7" x2="445.8" y2="309.6" stroke-width="1.6" stroke-linecap="round" stroke-dasharray="0.01 2.15" stroke="#231815"/>
<line x1="256.6" y1="324.7" x2="258.1" y2="342.9" stroke-width="1.6" stroke-linecap="round" stroke-dasharray="0.01 2.15" stroke="#231815"/>
<line x1="262.4" y1="323.2" x2="264.2" y2="339.9" stroke-width="1.6" stroke-linecap="round" stroke-dasharray="0.01 2.15" stroke="#231815"/>
<line x1="318.9" y1="289.7" x2="321.1" y2="305.7" stroke-width="1.6" stroke-linecap="round" stroke-dasharray="0.01 2.15" stroke="#231815"/>
<line x1="409" y1="411.4" x2="409" y2="449.6" stroke-width="1.1" stroke="#231815"/>
<line x1="448" y1="394.3" x2="448" y2="435.6" stroke-width="1.1" stroke="#231815"/>
<line x1="370.50" y1="444.30" x2="406.80" y2="421.60" stroke-width="1.2"/>
<polygon points="406.8,421.6 398.0,431.1 394.4,425.3" fill="#231815" stroke="none"/>
<line x1="488.90" y1="378.50" x2="450.10" y2="401.50" stroke-width="1.2"/>
<polygon points="450.1,401.5 459.1,392.2 462.6,398.1" fill="#231815" stroke="none"/>
<line x1="636.00" y1="298.60" x2="698.00" y2="261.60" stroke-width="1.5"/>
<line x1="664.40" y1="384.70" x2="702.40" y2="363.40" stroke-width="1.4"/>
<line x1="689.10" y1="270.50" x2="698.70" y2="361.60" stroke-width="1.2"/>
<polygon points="689.1,270.5 693.8,282.6 687.0,283.3" fill="#231815" stroke="none"/>
<polygon points="698.7,361.6 694.0,349.5 700.8,348.8" fill="#231815" stroke="none"/>
</g>
<g style="filter:grayscale(1)">
<text x="75.5" y="250.8" font-family="Liberation Sans, sans-serif" font-weight="bold" font-size="23" fill="#231815" stroke="#231815" stroke-width="0.3" stroke-linejoin="round">A</text>
<text x="216.9" y="405.5" font-family="Liberation Sans, sans-serif" font-weight="bold" font-size="23" fill="#231815" stroke="#231815" stroke-width="0.3" stroke-linejoin="round">B</text>
<text x="283.7" y="101.6" font-family="Liberation Sans, sans-serif" font-weight="bold" font-size="23" fill="#231815" stroke="#231815" stroke-width="0.3" stroke-linejoin="round">C</text>
<text x="415.2" y="403.8" font-family="Liberation Sans, sans-serif" font-weight="bold" font-size="23" fill="#231815" stroke="#231815" stroke-width="0.3" stroke-linejoin="round">D</text>
<text x="710.8" y="318.2" font-family="Liberation Sans, sans-serif" font-weight="bold" font-size="23" fill="#231815" stroke="#231815" stroke-width="0.3" stroke-linejoin="round">E</text>
<text transform="translate(571.8,771.6) scale(1,1.04)" x="0" y="0" font-family="Liberation Sans, sans-serif" font-size="48" letter-spacing="2.25" fill="#231815" stroke="none">Unit:mm</text>
</g>
</svg>
</body></html>
